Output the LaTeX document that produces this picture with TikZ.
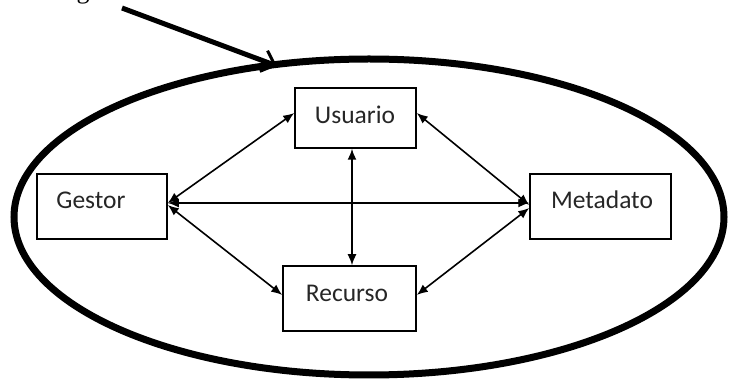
\documentclass[tikz,border=0pt]{standalone}
\usepackage{fontspec}
\setmainfont{Carlito}
\newfontfamily\serifcut{Liberation Serif}
\usetikzlibrary{arrows.meta,calc,shapes.geometric}
\tikzset{
  box/.style={draw, line width=1.5pt, minimum width=#1, inner sep=0pt},
  boxtext/.style={font=\fontsize{25.5}{30}\selectfont, inner sep=0pt, text=black!85},
  link/.style={line width=1.6pt, {Latex[length=11pt,width=9pt]}-{Latex[length=11pt,width=9pt]}},
}
\begin{document}
\begin{tikzpicture}[x=1pt,y=-1pt]
\useasboundingbox (0,0) rectangle (729,379);
% cut-off title fragment
\node[font=\serifcut\fontsize{26}{30}\selectfont, anchor=base, inner sep=0pt] (title) at (83,-1.5) {g};
% enclosing ellipse
\node[draw, line width=7pt, ellipse, minimum width=710, minimum height=316, inner sep=0pt] (scope) at (369,217) {};
% pointer arrow
\coordinate (pa) at (122,8);
\coordinate (pb) at (277,66);
\draw[line width=5pt, -{Straight Barb[length=12pt,width=22pt,line width=3pt]}] (pa) -- (pb);
% boxes
\node[box=121, minimum height=60] (usuario) at (355.5,118) {};
\node[box=130, minimum height=65] (gestor) at (102,206.5) {};
\node[box=141, minimum height=65] (metadato) at (600.5,206.5) {};
\node[box=133, minimum height=65] (recurso) at (349.5,298.5) {};
% texts
\node[boxtext] (tusuario) at (355,115) {Usuario};
\node[boxtext] (tgestor) at (91,200) {Gestor};
\node[boxtext] (tmetadato) at (602,200) {Metadato};
\node[boxtext] (trecurso) at (347,293) {Recurso};
% connectors
\draw[link] ([yshift=3.5pt]gestor.east) -- ([yshift=5pt]usuario.west);
\draw[link] ([yshift=3.5pt]gestor.east) -- ([yshift=3.5pt]metadato.west);
\draw[link] ([yshift=1.5pt]gestor.east) -- ([yshift=3.5pt]recurso.west);
\draw[link] ([xshift=-3.5pt]usuario.south) -- ([xshift=2.5pt]recurso.north);
\draw[link] ([yshift=5pt]usuario.east) -- ([yshift=1.5pt]metadato.west);
\draw[link] ([yshift=3.5pt]recurso.east) -- ([yshift=-1.5pt]metadato.west);
\end{tikzpicture}
\end{document}
